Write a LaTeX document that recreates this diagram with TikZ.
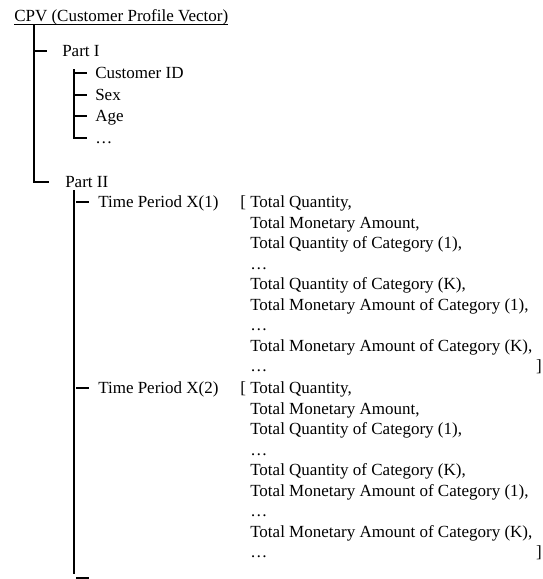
\documentclass[tikz,border=0pt]{standalone}
\usepackage{fontspec}
\setmainfont{Liberation Serif}
\usetikzlibrary{positioning,calc}

\begin{document}
\begin{tikzpicture}[x=0.75pt,y=-0.75pt,
 item/.style={anchor=west,inner sep=0pt,text height=8.4pt,text depth=0pt,
 font=\fontsize{12.75}{15.375}\selectfont},
 vec/.style={anchor=base west,inner sep=0pt,align=left,
 font=\fontsize{12.75}{15.375}\selectfont},
 branch/.style={line width=1.5pt}]
\useasboundingbox (0,0) rectangle (543,579);
% title and its underline
\node[item,anchor=base west] (cpv) at (14,21) {CPV (Customer Profile Vector)};
\draw[line width=0.75pt] ([yshift=-2.25pt]cpv.base west) -- ([yshift=-2.25pt]cpv.base east);
% first level
\coordinate (root) at (33.5,25);
\node[item] (part1) at (62,51) {Part I};
\node[item] (part2) at (65,182) {Part II};
\draw[branch] (root) -- (root |- part2.west) -- ++(15,0);
\draw[branch] (root |- part1.west) -- ++(13.5,0);
% Part I fields
\coordinate (p1top) at (74,69);
\node[item] (cid) at (95,73) {Customer ID};
\node[item] (sex) at (95,95) {Sex};
\node[item] (age) at (95,116) {Age};
\node[item] (more1) at (95,138) {\ldots};
\draw[branch] (p1top) -- (p1top |- more1.west) -- ++(13,0);
\draw[branch] (p1top |- cid.west) -- ++(13,0);
\draw[branch] (p1top |- sex.west) -- ++(13,0);
\draw[branch] (p1top |- age.west) -- ++(13,0);
% Part II time periods
\coordinate (p2top) at (74,190);
\coordinate (p2end) at (74,574);
\coordinate (p2last) at (76,578);
\node[item] (tp1) at (98,202) {Time Period X(1)};
\node[item] (tp2) at (98,388) {Time Period X(2)};
\draw[branch] (p2top) -- (p2end);
\draw[branch] ([xshift=1.5pt]p2top |- tp1.west) -- ++(13,0);
\draw[branch] ([xshift=1.5pt]p2top |- tp2.west) -- ++(13,0);
\draw[branch] (p2last) -- ++(13,0);
% vector of each period (base is the last line)
\node[item] (open1) at (240,202) {[};
\node[vec] (vec1) at (250,371.6) {Total Quantity,\\Total Monetary Amount,\\
 Total Quantity of Category (1),\\\ldots\\Total Quantity of Category (K),\\
 Total Monetary Amount of Category (1),\\\ldots\\
 Total Monetary Amount of Category (K),\\\ldots};
\node[item,anchor=east] (close1) at (542,366) {]};
\node[item] (open2) at (240,388) {[};
\node[vec] (vec2) at (250,557.6) {Total Quantity,\\Total Monetary Amount,\\
 Total Quantity of Category (1),\\\ldots\\Total Quantity of Category (K),\\
 Total Monetary Amount of Category (1),\\\ldots\\
 Total Monetary Amount of Category (K),\\\ldots};
\node[item,anchor=east] (close2) at (542,552) {]};
\end{tikzpicture}
\end{document}
